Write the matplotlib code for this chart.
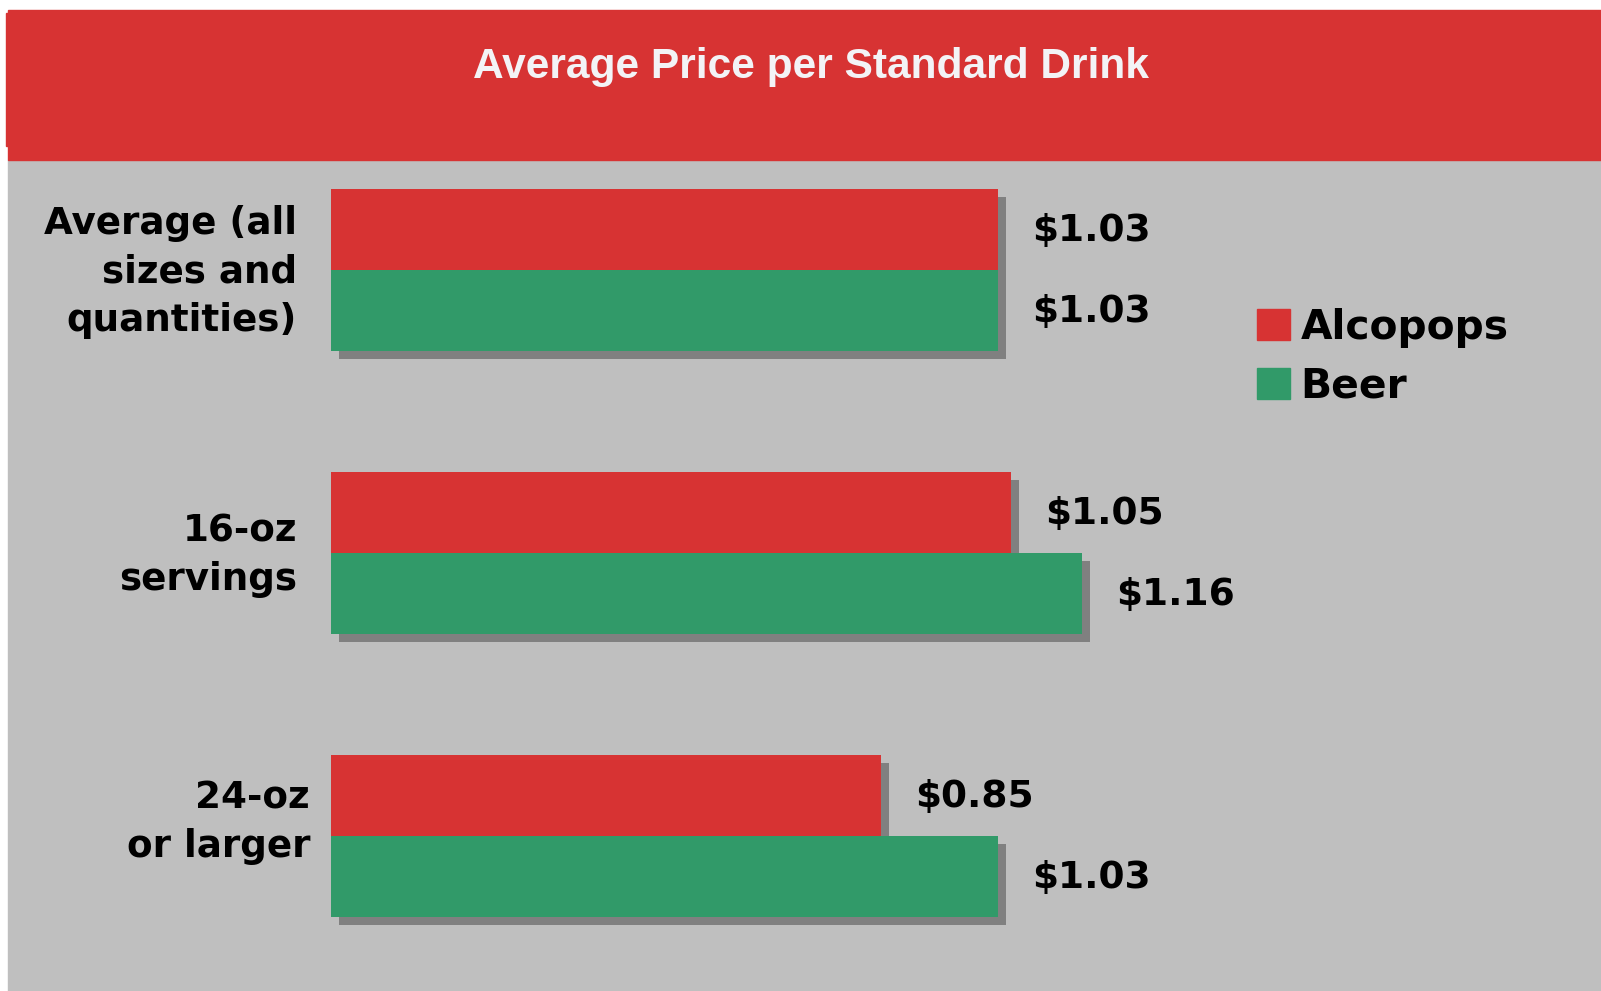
import numpy as np
import matplotlib.pyplot as plt
from matplotlib.patches import Rectangle, Patch
import matplotlib.patheffects as pe

categories = ["Average (all\nsizes and\nquantities)", "16-oz\nservings", "24-oz\nor larger"]
series = ["Alcopops", "Beer"]
alcopops = [1.03, 1.05, 0.85]
beer = [1.03, 1.16, 1.03]
title = "Average Price per Standard Drink"

RED = '#d73333'
GREEN = '#319a69'
BG = '#bfbfbf'
SHADOW = '#808080'

W, H = 1601, 991
fig = plt.figure(figsize=(W / 100, H / 100), dpi=100)
fig.patch.set_facecolor('white')

def fx(px):
	return px / W

def fy(py):
	return 1 - py / H

# gray panel and red title band
fig.patches.append(Rectangle((fx(8), 0), 1 - fx(8), fy(160), transform=fig.transFigure, color=BG, zorder=0))
fig.patches.append(Rectangle((fx(8), fy(160)), 1 - fx(8), fy(10) - fy(160), transform=fig.transFigure, color=RED, zorder=1))
fig.patches.append(Rectangle((fx(6), fy(146)), fx(2), fy(13) - fy(146), transform=fig.transFigure, color=RED, zorder=1))
fig.text(fx(811), fy(78), title, ha='center', va='baseline', color='#f3f3f6',
	fontsize=30.6, fontweight='bold', family='Liberation Sans', zorder=3)

# axes: x=0 at px 331, 647.6 px per dollar; group spacing 283 px
px_per = 647.6
gap = 283.0
ax = fig.add_axes([fx(331), 0, 1 - fx(331), fy(160)])
ax.set_zorder(5)
ax.set_xlim(0, (W - 331) / px_per)
ax.set_ylim(2 + 155 / gap, -110 / gap)
ax.axis('off')

y = np.arange(len(categories))
h = 81 / gap
shadow = [pe.SimplePatchShadow(offset=(5.76, -5.76), shadow_rgbFace=SHADOW, alpha=1), pe.Normal()]
b1 = ax.barh(y - h / 2, alcopops, height=h, color=RED, path_effects=shadow, zorder=2)
b2 = ax.barh(y + h / 2, beer, height=h, color=GREEN, path_effects=shadow, zorder=3)

for bars, vals in [(b1, alcopops), (b2, beer)]:
	for bar, v in zip(bars, vals):
		ax.annotate('$%.2f' % v, (v, bar.get_y() + bar.get_height() / 2),
			xytext=(34, -2), textcoords='offset pixels', ha='left', va='center',
			fontsize=27, fontweight='bold', family='DejaVu Sans', color='black')

offsets = [(-34, -2), (-34, -2), (-21, 14)]
for i, lab in enumerate(categories):
	ax.annotate(lab, (0, y[i]), xytext=offsets[i], textcoords='offset pixels',
		ha='right', va='center', fontsize=26.8, fontweight='bold', family='DejaVu Sans',
		color='black', linespacing=1.4, annotation_clip=False)

handles = [Patch(color=RED), Patch(color=GREEN)]
leg = fig.legend(handles, series, loc='upper left', bbox_to_anchor=(fx(1257), fy(308)),
	frameon=False, borderpad=0, borderaxespad=0, handlelength=0.8, handleheight=0.8,
	handletextpad=0.27, labelspacing=0.45,
	prop={'family': 'DejaVu Sans', 'weight': 'bold', 'size': 29.3})
leg.set_zorder(6)

fig.savefig('out.png', dpi=100, facecolor=fig.get_facecolor())
